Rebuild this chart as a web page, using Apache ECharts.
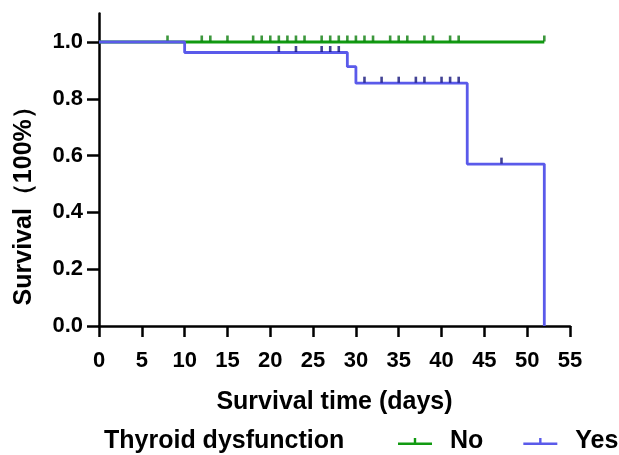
<!DOCTYPE html>
<html>
<head>
<meta charset="utf-8">
<script src="https://cdn.jsdelivr.net/npm/echarts@6/dist/echarts.min.js"></script>
<style>html,body{margin:0;padding:0;background:#fff;}#c{width:619px;height:455px;}</style>
</head>
<body>
<div id="c"></div>
<script>
// Kaplan-Meier step data (time, survival)
var noSteps = [[0, 1.0], [52, 1.0]];
var yesSteps = [[0, 1.0], [10, 0.963], [29, 0.913], [30, 0.855], [43, 0.570], [52, 0.0]];
// censored times
var noCensor = [8, 12, 13, 15, 18, 19, 20, 21, 22, 23, 24, 26, 27, 28, 29, 30, 31, 32, 34, 35, 36, 38, 39, 41, 42, 52];
var yesCensor = [21, 23, 26, 27, 28, 31, 33, 35, 37, 38, 40, 41, 42, 47];
var yTicks = [0, 0.2, 0.4, 0.6, 0.8, 1.0];
var xTicks = [0, 5, 10, 15, 20, 25, 30, 35, 40, 45, 50, 55];

function survAt(steps, t) {
  var s = steps[0][1];
  for (var i = 0; i < steps.length; i++) { if (steps[i][0] <= t) s = steps[i][1]; }
  return s;
}
function censorPts(steps, times) {
  return times.map(function (t) { return [t, survAt(steps, t)]; });
}

var FONT = 'Liberation Sans, Arial, sans-serif';
var green = '#119a11', greenTick = '#0b7d0b';
var blue = '#5a5aea', blueTick = '#14147a';
var tickIcon = 'path://M0,6 H34 V8.6 H0 Z M15.8,1.5 H18.2 V6 H15.8 Z';

var chart = echarts.init(document.getElementById('c'));
chart.setOption({
  backgroundColor: '#fff',
  animation: false,
  grid: { left: 99, right: 49, top: 13.6, bottom: 129 },
  title: {
    text: 'Thyroid dysfunction', left: 104, top: 429, padding: 0,
    textStyle: { fontFamily: FONT, fontWeight: 'bold', fontSize: 25, color: '#000' }
  },
  legend: {
    data: [{ name: 'No', icon: tickIcon }, { name: 'Yes', icon: tickIcon }],
    left: 398, top: 429, padding: 0, itemWidth: 34, itemHeight: 9, itemGap: 40,
    textStyle: { fontFamily: FONT, fontWeight: 'bold', fontSize: 25, color: '#000', padding: [0, 0, 0, 13] }
  },
  xAxis: {
    type: 'value', min: 0, max: 55, interval: 5,
    name: 'Survival time (days)', nameLocation: 'middle', nameGap: 64,
    nameTextStyle: { fontFamily: FONT, fontWeight: 'bold', fontSize: 25, color: '#000' },
    axisLine: { show: true, onZero: false, lineStyle: { color: '#000', width: 2.5 } },
    axisTick: { show: true, length: 11, lineStyle: { color: '#000', width: 2.5 } },
    axisLabel: { fontFamily: FONT, fontWeight: 'bold', fontSize: 22, color: '#000', margin: 24,
      customValues: xTicks },
    splitLine: { show: false }
  },
  yAxis: {
    type: 'value', min: 0, max: 1.1,
    name: 'Survival（100%）', nameLocation: 'middle', nameGap: 62, nameRotate: 90,
    nameTextStyle: { fontFamily: FONT, fontWeight: 'bold', fontSize: 25, color: '#000', padding: [0, 60, 0, 0] },
    axisLine: { show: true, lineStyle: { color: '#000', width: 2.5 } },
    axisTick: { show: true, length: 12, lineStyle: { color: '#000', width: 2.5 }, customValues: yTicks },
    axisLabel: { fontFamily: FONT, fontWeight: 'bold', fontSize: 22, color: '#000', margin: 16,
      customValues: yTicks, formatter: function (v) { return v.toFixed(1); } },
    splitLine: { show: false }
  },
  series: [
    { name: 'No', type: 'line', step: 'end', data: noSteps, symbol: 'none', z: 2,
      lineStyle: { color: green, width: 2.8 }, itemStyle: { color: green } },
    { name: 'No-censor', type: 'scatter', data: censorPts(noSteps, noCensor), symbol: 'rect',
      symbolSize: [2.6, 6], symbolOffset: [0, -3.5], itemStyle: { color: greenTick }, z: 3 },
    { name: 'Yes', type: 'line', step: 'end', data: yesSteps, symbol: 'none', z: 4,
      lineStyle: { color: blue, width: 2.8 }, itemStyle: { color: blue } },
    { name: 'Yes-censor', type: 'scatter', data: censorPts(yesSteps, yesCensor), symbol: 'rect',
      symbolSize: [2.6, 6], symbolOffset: [0, -3.5], itemStyle: { color: blueTick }, z: 5 }
  ]
});
</script>
</body>
</html>
